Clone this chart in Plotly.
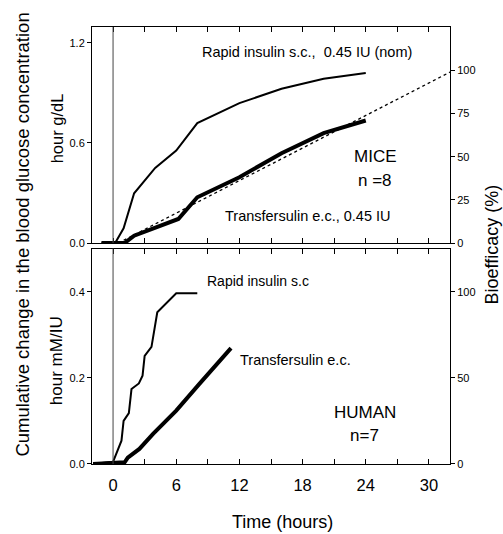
import plotly.graph_objects as go

FONT = "Arial, Liberation Sans, sans-serif"

# ---- data ----
mice_rapid_t = [-1.1, 0.2, 1.0, 2.0, 4.0, 6.0, 8.0, 12.0, 16.0, 20.0, 24.0]
mice_rapid_y = [0.0, 0.0, 0.088, 0.298, 0.45, 0.554, 0.718, 0.838, 0.924, 0.984, 1.018]

mice_trans_t = [-1.1, 1.1, 2.0, 6.2, 8.0, 12.0, 16.0, 20.0, 24.0]
mice_trans_y = [0.0, 0.0, 0.044, 0.144, 0.274, 0.394, 0.538, 0.658, 0.734]

mice_ref_t = [0.5, 32.0]
mice_ref_pct = [0.0, 99.0]

hum_rapid_t = [-1.9, 0.0, 0.8, 1.0, 1.5, 1.75, 2.45, 2.8, 3.0, 3.65, 4.2, 6.0, 8.0]
hum_rapid_y = [0.0, 0.005, 0.054, 0.10, 0.118, 0.174, 0.187, 0.205, 0.251, 0.272, 0.352, 0.396, 0.396]

hum_trans_t = [-1.9, 1.1, 1.4, 2.5, 3.8, 6.0, 8.2, 11.2]
hum_trans_y = [0.0, 0.004, 0.015, 0.035, 0.07, 0.124, 0.186, 0.269]

x_tickvals = [0, 3, 6, 9, 12, 15, 18, 21, 24, 27, 30]
x_ticktext = ["0", "", "6", "", "12", "", "18", "", "24", "", "30"]

top_left_ticks = [0.0, 0.6, 1.2]
top_left_text = ["0.0", "0.6", "1.2"]
top_right_ticks = [0, 25, 50, 75, 100]
bot_left_ticks = [0.0, 0.2, 0.4]
bot_left_text = ["0.0", "0.2", "0.4"]
bot_right_ticks = [0, 50, 100]

fig = go.Figure()

# top panel (MICE)
fig.add_trace(go.Scatter(x=mice_rapid_t, y=mice_rapid_y, mode="lines",
                         line=dict(color="black", width=2), xaxis="x2", yaxis="y3"))
fig.add_trace(go.Scatter(x=mice_trans_t, y=mice_trans_y, mode="lines",
                         line=dict(color="black", width=4), xaxis="x2", yaxis="y3"))
fig.add_trace(go.Scatter(x=mice_ref_t, y=mice_ref_pct, mode="lines",
                         line=dict(color="black", width=1.3, dash="dot"), xaxis="x2", yaxis="y4"))

# bottom panel (HUMAN)
fig.add_trace(go.Scatter(x=hum_rapid_t, y=hum_rapid_y, mode="lines",
                         line=dict(color="black", width=2), xaxis="x", yaxis="y"))
fig.add_trace(go.Scatter(x=hum_trans_t, y=hum_trans_y, mode="lines",
                         line=dict(color="black", width=4), xaxis="x", yaxis="y"))

axis_common = dict(showline=True, linecolor="black", linewidth=1, showgrid=False,
                   zeroline=False, ticks="outside", ticklen=4, tickcolor="black",
                   tickfont=dict(family=FONT, size=11, color="black"))
x_common = dict(range=[-2, 32], showline=True, linecolor="black", linewidth=1, showgrid=False,
                zeroline=False, ticks="inside", ticklen=5, tickcolor="black", mirror="ticks",
                tickvals=x_tickvals, ticktext=x_ticktext,
                tickfont=dict(family=FONT, size=16.5, color="black"))

top_dom = [0.5057, 1.0]
bot_dom = [0.0, 0.493]

fig.update_layout(
    width=503, height=534,
    margin=dict(l=92, r=53, t=27, b=70),
    paper_bgcolor="white", plot_bgcolor="white",
    showlegend=False,
    xaxis=dict(**x_common, anchor="y", domain=[0, 1], ticklabelstandoff=6),
    xaxis2=dict(**x_common, anchor="y3", domain=[0, 1], matches="x", showticklabels=False),
    yaxis=dict(**axis_common, domain=bot_dom, range=[0, 0.5], anchor="x",
               tickvals=bot_left_ticks, ticktext=bot_left_text),
    yaxis2=dict(**axis_common, domain=bot_dom, range=[0, 125], anchor="x",
                overlaying="y", side="right", tickvals=bot_right_ticks),
    yaxis3=dict(**axis_common, domain=top_dom, range=[0, 1.294], anchor="x2",
                tickvals=top_left_ticks, ticktext=top_left_text),
    yaxis4=dict(**axis_common, domain=top_dom, range=[0, 125.1], anchor="x2",
                overlaying="y3", side="right", tickvals=top_right_ticks),
)

# dummy trace so the right bottom axis is drawn
fig.add_trace(go.Scatter(x=[None], y=[None], xaxis="x", yaxis="y2", showlegend=False))

# vertical injection lines at t=0
fig.add_shape(type="line", xref="x2", yref="y3 domain", x0=0, x1=0, y0=0, y1=1,
              line=dict(color="#444", width=1))
fig.add_shape(type="line", xref="x", yref="y domain", x0=0, x1=0, y0=0, y1=1,
              line=dict(color="#444", width=1))

txt = dict(family=FONT, color="black")
ann = [
    dict(x=18.45, y=1.145, xref="x2", yref="y3", text="Rapid insulin s.c.,\u00a0 0.45 IU (nom)", font=dict(size=14.5, **txt)),
    dict(x=24.9, y=0.521, xref="x2", yref="y3", text="MICE", font=dict(size=17, **txt)),
    dict(x=24.9, y=0.375, xref="x2", yref="y3", text="n =8", font=dict(size=17, **txt)),
    dict(x=18.5, y=0.159, xref="x2", yref="y3", text="Transfersulin e.c., 0.45 IU", font=dict(size=14.5, **txt)),
    dict(x=13.8, y=0.425, xref="x", yref="y", text="Rapid insulin s.c", font=dict(size=14, **txt)),
    dict(x=17.3, y=0.242, xref="x", yref="y", text="Transfersulin e.c.", font=dict(size=14.5, **txt)),
    dict(x=23.9, y=0.12, xref="x", yref="y", text="HUMAN", font=dict(size=17, **txt)),
    dict(x=23.9, y=0.066, xref="x", yref="y", text="n=7", font=dict(size=17, **txt)),
    dict(x=-0.1927, y=0.525, xref="paper", yref="paper", text="Cumulative change in the blood glucose concentration",
         textangle=-90, font=dict(size=18.5, **txt)),
    dict(x=-0.0978, y=0.768, xref="paper", yref="paper", text="hour g/dL", textangle=-90, font=dict(size=16.5, **txt)),
    dict(x=-0.0986, y=0.237, xref="paper", yref="paper", text="hour mM/IU", textangle=-90, font=dict(size=17, **txt)),
    dict(x=1.118, y=0.503, xref="paper", yref="paper", text="Bioefficacy (%)", textangle=-90, font=dict(size=18, **txt)),
    dict(x=0.531, y=-0.1325, xref="paper", yref="paper", text="Time (hours)", font=dict(size=18, **txt)),
]
for a in ann:
    a.update(showarrow=False, xanchor="center", yanchor="middle")
    fig.add_annotation(**a)

fig.write_html("out.html")
